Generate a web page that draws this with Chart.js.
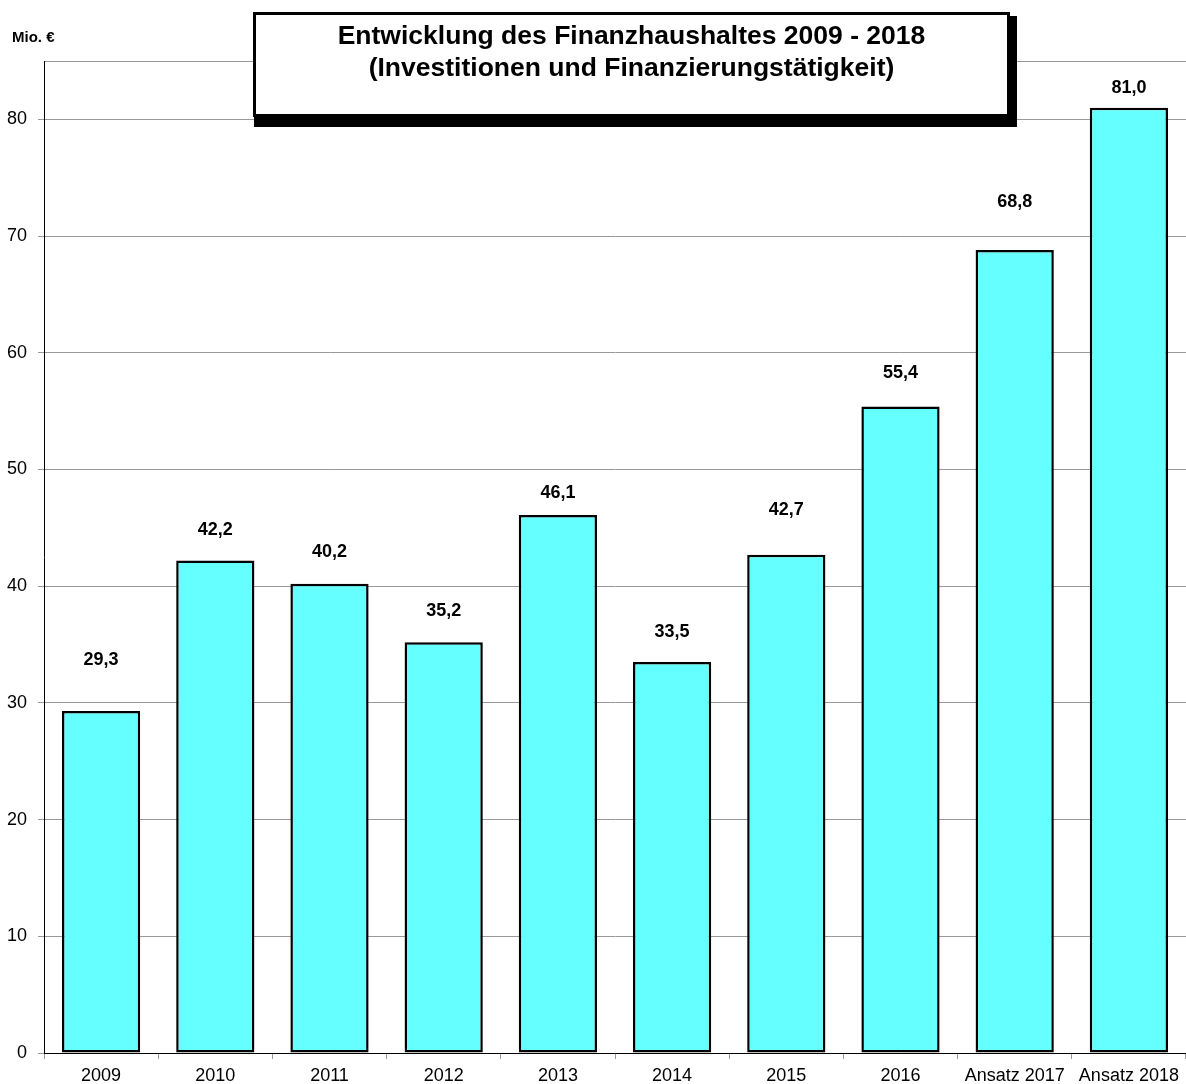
<!DOCTYPE html>
<html>
<head>
<meta charset="utf-8">
<script src="https://cdn.jsdelivr.net/npm/chart.js@4"></script>
<style>
    body { margin: 0; background: #fff; }
    #wrap { position: relative; width: 1186px; height: 1084px; }
    #titleBox {
        position: absolute; left: 253px; top: 12px; width: 757px; height: 105px;
        box-sizing: border-box; border: 3px solid #000; background: #fff;
        box-shadow: 4px 7px 0 3px #000;
        font: bold 26.5px "Liberation Sans", Arial, sans-serif; text-align: center;
        line-height: 32px; padding-top: 4px;
    }
    #unit {
        position: absolute; left: 12px; top: 28px;
        font: bold 15px "Liberation Sans", Arial, sans-serif;
    }
</style>
</head>
<body>
<div id="wrap">
    <canvas id="financeChart" width="1186" height="1084"></canvas>
    <div id="unit">Mio. €</div>
    <div id="titleBox">Entwicklung des Finanzhaushaltes 2009 - 2018<br>(Investitionen und Finanzierungstätigkeit)</div>
</div>
<script>
// Data
const years = ['2009', '2010', '2011', '2012', '2013', '2014', '2015', '2016', 'Ansatz 2017', 'Ansatz 2018'];
const amounts = [29.3, 42.2, 40.2, 35.2, 46.1, 33.5, 42.7, 55.4, 68.8, 81.0];
const yTicks = [0, 10, 20, 30, 40, 50, 60, 70, 80];

// distance of each value label above its bar (px)
const labelOffsets = [51, 30, 32, 31, 22, 30, 45, 33, 48, 20];

document.addEventListener('DOMContentLoaded', function () {
    const ctx = document.getElementById('financeChart').getContext('2d');
    const fontFamily = '"Liberation Sans", Arial, sans-serif';

    // Draw the value labels above the bars
    const valueLabels = {
        id: 'valueLabels',
        afterDatasetsDraw(chart) {
            const meta = chart.getDatasetMeta(0);
            const c = chart.ctx;
            c.save();
            c.font = 'bold 18px ' + fontFamily;
            c.fillStyle = '#000';
            c.textAlign = 'center';
            c.textBaseline = 'middle';
            meta.data.forEach((bar, i) => {
                const text = amounts[i].toFixed(1).replace('.', ',');
                c.fillText(text, bar.x, bar.y - labelOffsets[i]);
            });
            c.restore();
        }
    };

    new Chart(ctx, {
        type: 'bar',
        data: {
            labels: years,
            datasets: [{
                data: amounts,
                backgroundColor: '#66FFFF',
                borderColor: '#000',
                borderWidth: 2.5,
                borderSkipped: false,
                barPercentage: 0.685,
                categoryPercentage: 1
            }]
        },
        options: {
            responsive: false,
            animation: false,
            layout: { padding: { top: 61, left: 0, right: 0, bottom: 0 } },
            plugins: {
                legend: { display: false },
                tooltip: { enabled: false }
            },
            scales: {
                x: {
                    afterFit(scale) { scale.height = 31; },
                    border: { color: '#000', width: 1 },
                    grid: {
                        offset: true,
                        drawOnChartArea: false,
                        tickLength: 6,
                        color: '#999'
                    },
                    ticks: {
                        color: '#000',
                        padding: 6,
                        maxRotation: 0,
                        font: { family: fontFamily, size: 18 }
                    }
                },
                y: {
                    min: 0,
                    max: 85,
                    afterFit(scale) { scale.width = 44; },
                    afterBuildTicks(scale) {
                        scale.ticks = yTicks.map(v => ({ value: v })).concat([{ value: 85 }]);
                    },
                    border: { color: '#000', width: 1 },
                    grid: {
                        color: '#999',
                        tickLength: 6,
                        tickColor: c => (c.tick && c.tick.value === 85 ? 'rgba(0,0,0,0)' : '#999')
                    },
                    ticks: {
                        color: '#000',
                        padding: 11,
                        font: { family: fontFamily, size: 18 },
                        callback: v => (yTicks.includes(v) ? String(v) : '')
                    }
                }
            }
        },
        plugins: [valueLabels]
    });
});
</script>
</body>
</html>
